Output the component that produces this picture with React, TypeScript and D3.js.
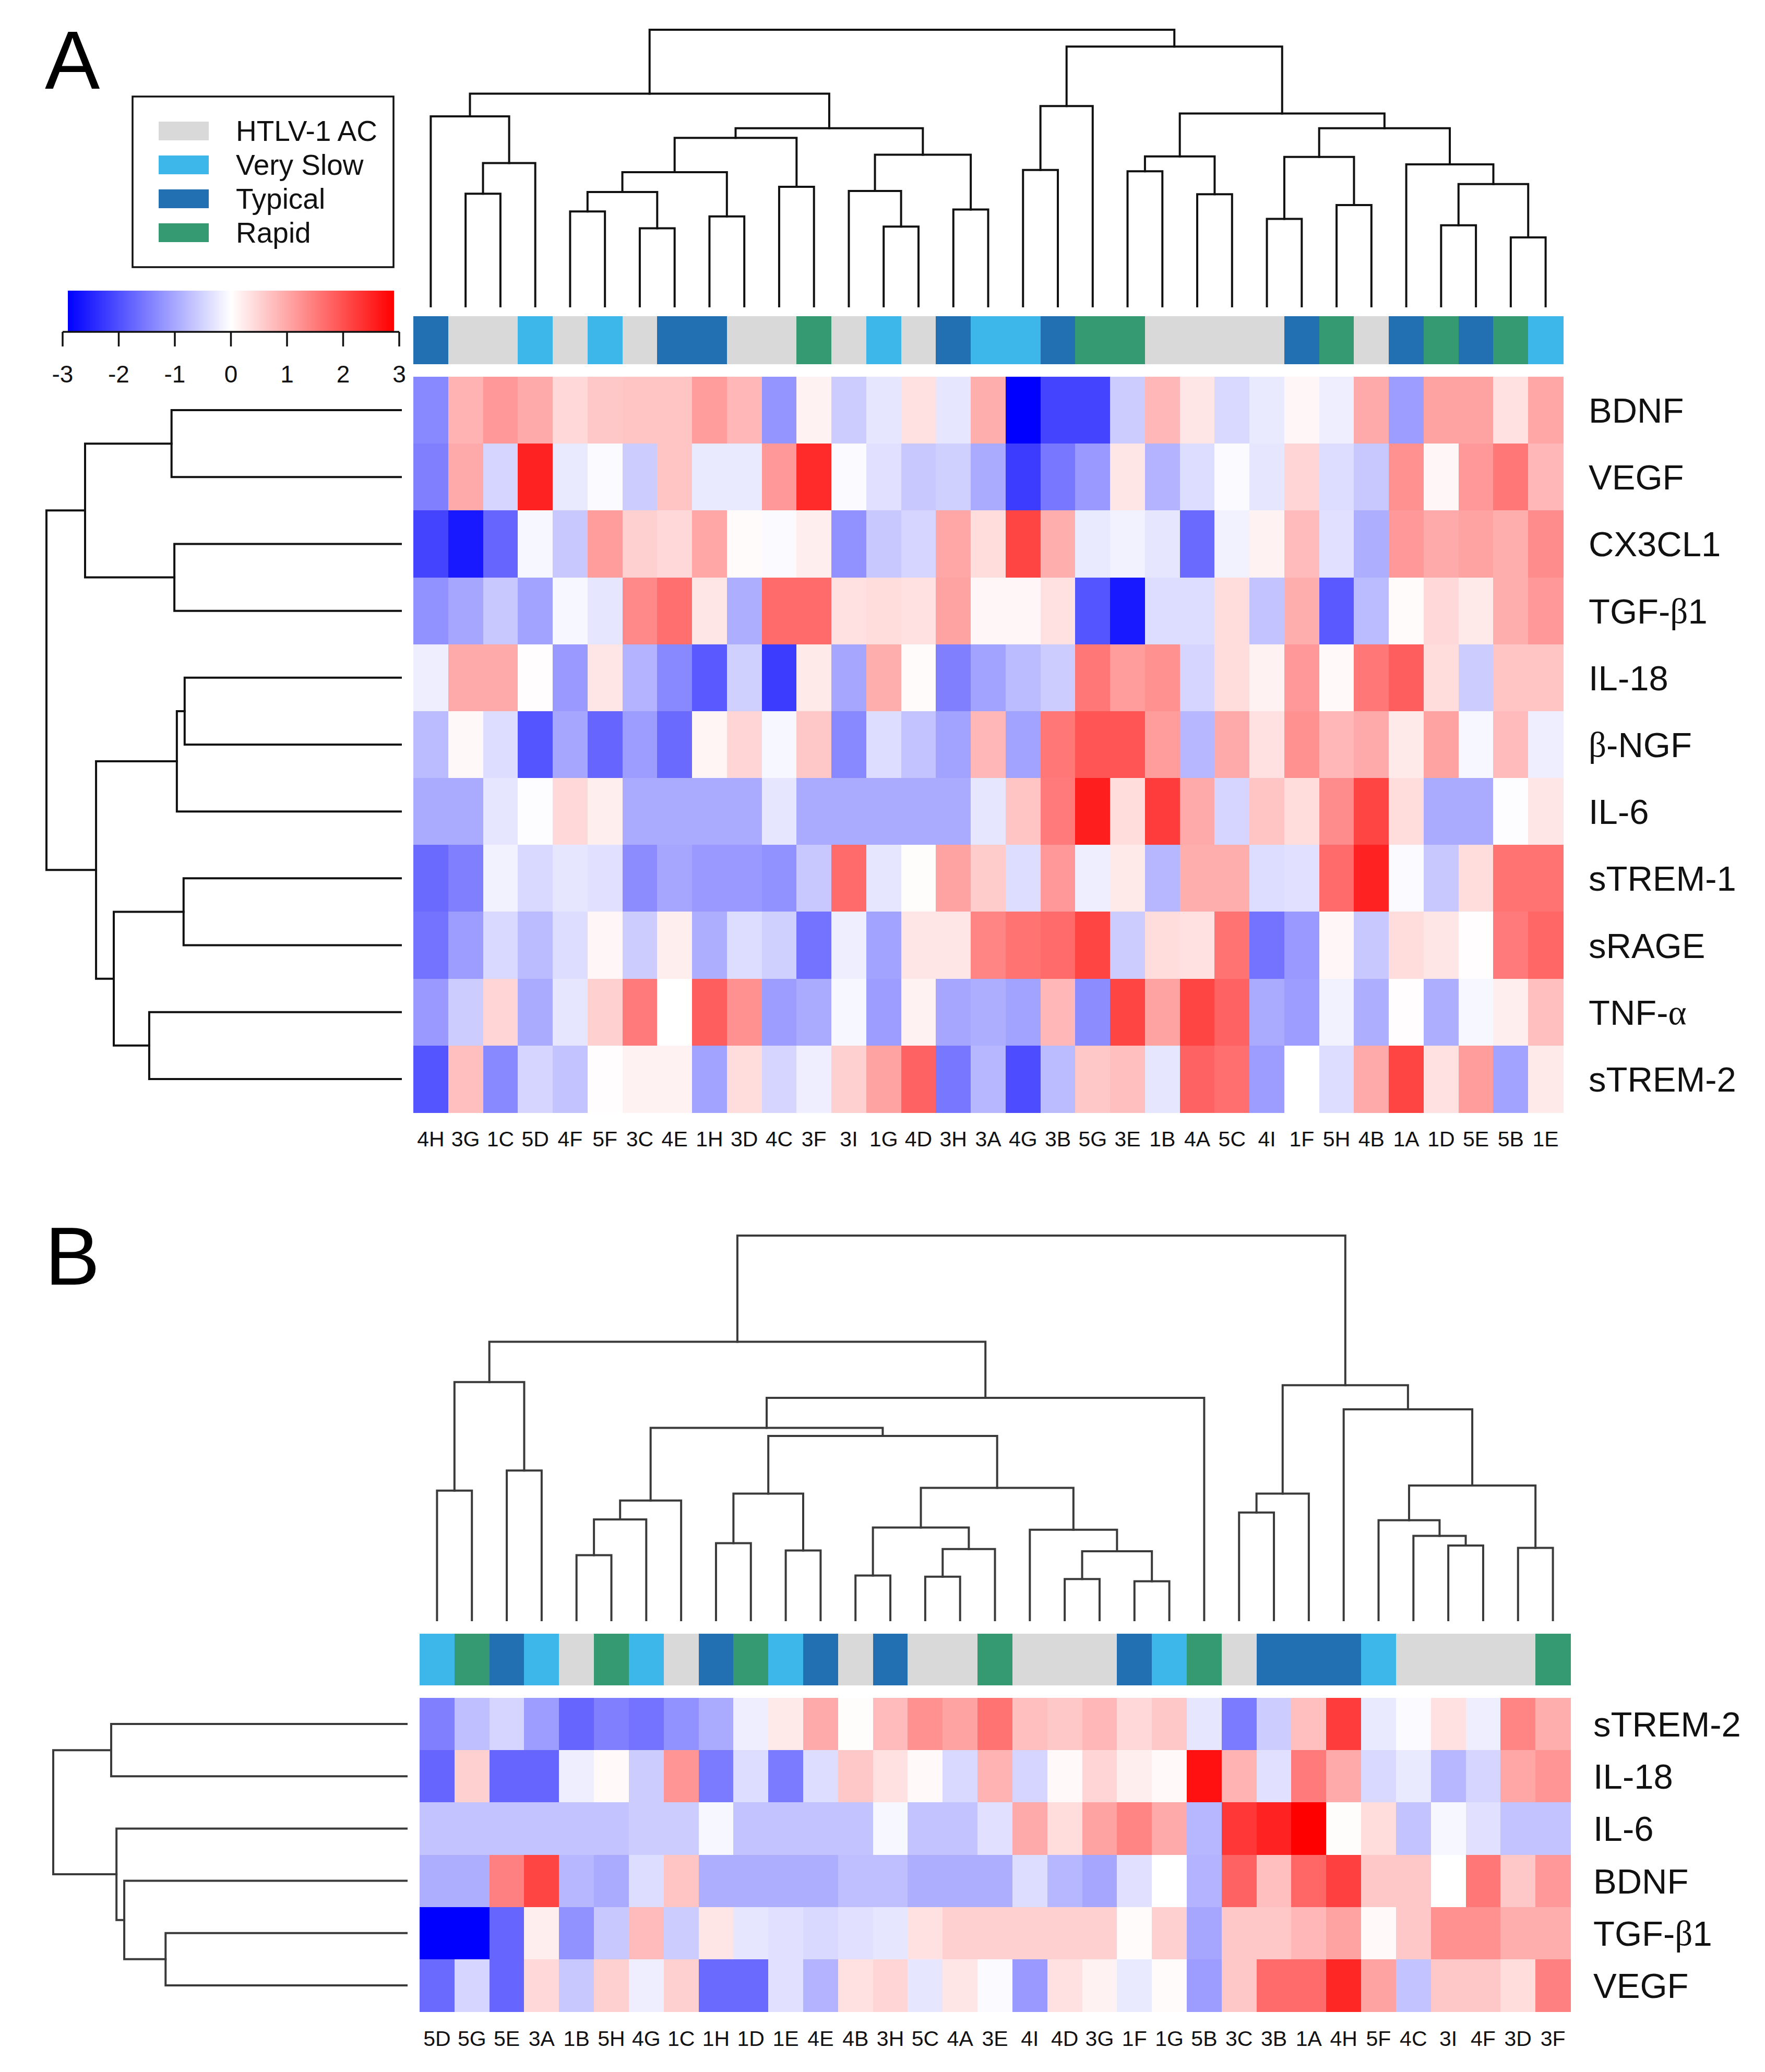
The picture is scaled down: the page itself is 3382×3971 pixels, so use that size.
import React from 'react';
import * as d3 from 'd3';

// sample -> clinical group (same in both panels)
const groupOf: Record<string, string> = {
  '4H': 'Typical', '3G': 'HTLV-1 AC', '1C': 'HTLV-1 AC', '5D': 'Very Slow', '4F': 'HTLV-1 AC',
  '5F': 'Very Slow', '3C': 'HTLV-1 AC', '4E': 'Typical', '1H': 'Typical', '3D': 'HTLV-1 AC',
  '4C': 'HTLV-1 AC', '3F': 'Rapid', '3I': 'HTLV-1 AC', '1G': 'Very Slow', '4D': 'HTLV-1 AC',
  '3H': 'Typical', '3A': 'Very Slow', '4G': 'Very Slow', '3B': 'Typical', '5G': 'Rapid',
  '3E': 'Rapid', '1B': 'HTLV-1 AC', '4A': 'HTLV-1 AC', '5C': 'HTLV-1 AC', '4I': 'HTLV-1 AC',
  '1F': 'Typical', '5H': 'Rapid', '4B': 'HTLV-1 AC', '1A': 'Typical', '1D': 'Rapid',
  '5E': 'Typical', '5B': 'Rapid', '1E': 'Very Slow',
};
const groups = ['HTLV-1 AC', 'Very Slow', 'Typical', 'Rapid'];
const groupColors = ['#d9d9d9', '#3db7e9', '#2270b1', '#359a72'];
const keyTicks = [-3, -2, -1, 0, 1, 2, 3];

// ---- panel A ----
const samplesA = ['4H', '3G', '1C', '5D', '4F', '5F', '3C', '4E', '1H', '3D', '4C', '3F', '3I', '1G', '4D', '3H', '3A',
  '4G', '3B', '5G', '3E', '1B', '4A', '5C', '4I', '1F', '5H', '4B', '1A', '1D', '5E', '5B', '1E'];
const markersA = ['BDNF', 'VEGF', 'CX3CL1', 'TGF-β1', 'IL-18', 'β-NGF', 'IL-6', 'sTREM-1', 'sRAGE', 'TNF-α', 'sTREM-2'];
const valuesA = [
  [-1.4, 0.9, 1.2, 1.0, 0.45, 0.65, 0.7, 0.7, 1.15, 0.85, -1.25, 0.15, -0.6, -0.3, 0.35, -0.3, 0.95, -3, -2.2, -2.2, -0.6, 0.85, 0.3, -0.45, -0.25, 0.1, -0.2, 1.0, -1.15, 1.1, 1.1, 0.35, 1.05],
  [-1.5, 1.0, -0.5, 2.6, -0.25, -0.05, -0.6, 0.7, -0.25, -0.25, 1.2, 2.5, -0.05, -0.35, -0.65, -0.55, -1.0, -2.3, -1.6, -1.2, 0.3, -0.9, -0.4, -0.05, -0.3, 0.5, -0.4, -0.65, 1.3, 0.1, 1.2, 1.6, 0.85],
  [-2.2, -2.7, -1.8, -0.1, -0.65, 1.15, 0.55, 0.45, 1.05, 0.05, -0.05, 0.2, -1.3, -0.65, -0.5, 1.05, 0.4, 2.2, 0.95, -0.25, -0.15, -0.3, -1.75, -0.15, 0.15, 0.8, -0.35, -0.95, 1.2, 1.0, 1.1, 0.95, 1.35],
  [-1.3, -1.05, -0.65, -1.1, -0.1, -0.3, 1.4, 1.7, 0.3, -0.95, 1.75, 1.75, 0.35, 0.4, 0.35, 1.1, 0.1, 0.1, 0.35, -2.0, -2.7, -0.4, -0.4, 0.4, -0.7, 0.95, -1.95, -0.8, 0.05, 0.45, 0.25, 0.95, 1.2],
  [-0.2, 1.0, 1.0, 0.02, -1.2, 0.3, -0.9, -1.4, -1.95, -0.55, -2.3, 0.25, -1.05, 0.95, 0.05, -1.5, -1.1, -0.8, -0.6, 1.6, 1.15, 1.3, -0.5, 0.4, 0.15, 1.2, 0.07, 1.6, 1.9, 0.4, -0.6, 0.7, 0.7],
  [-0.8, 0.08, -0.4, -2.0, -1.05, -1.8, -1.15, -1.75, 0.12, 0.5, -0.1, 0.65, -1.4, -0.4, -0.7, -1.1, 0.85, -1.1, 1.6, 2.0, 2.0, 1.15, -0.85, 1.0, 0.35, 1.3, 0.85, 1.0, 0.25, 1.1, -0.1, 0.8, -0.2],
  [-1.0, -1.0, -0.3, -0.02, 0.45, 0.2, -1.0, -1.0, -1.0, -1.0, -0.3, -1.0, -1.0, -1.0, -1.0, -1.0, -0.3, 0.7, 1.55, 2.65, 0.4, 2.3, 1.0, -0.5, 0.7, 0.4, 1.35, 2.2, 0.4, -1.0, -1.0, -0.02, 0.3],
  [-1.75, -1.5, -0.15, -0.45, -0.3, -0.35, -1.35, -1.05, -1.2, -1.2, -1.3, -0.65, 1.75, -0.3, 0.03, 1.1, 0.6, -0.4, 1.2, -0.2, 0.25, -0.85, 0.95, 0.95, -0.4, -0.35, 1.75, 2.6, -0.05, -0.65, 0.4, 1.65, 1.65],
  [-1.65, -1.15, -0.45, -0.8, -0.4, 0.1, -0.6, 0.2, -0.95, -0.4, -0.55, -1.65, -0.2, -1.1, 0.3, 0.3, 1.45, 1.65, 1.75, 2.2, -0.6, 0.4, 0.35, 1.65, -1.65, -1.2, 0.1, -0.65, 0.4, 0.3, 0.02, 1.55, 1.8],
  [-1.2, -0.6, 0.5, -1.0, -0.3, 0.55, 1.55, 0.0, 1.9, 1.3, -1.15, -1.0, -0.1, -1.15, 0.15, -1.05, -0.95, -1.1, 0.85, -1.35, 2.2, 1.1, 2.2, 1.85, -1.0, -1.15, -0.15, -0.95, 0.02, -0.95, -0.1, 0.2, 0.75],
  [-2.0, 0.75, -1.4, -0.5, -0.7, 0.02, 0.15, 0.15, -1.1, 0.4, -0.5, -0.2, 0.55, 1.1, 1.85, -1.6, -0.85, -2.1, -0.8, 0.65, 0.75, -0.3, 1.85, 1.7, -1.15, 0, -0.4, 1.0, 2.2, 0.35, 1.15, -1.1, 0.25],
];
// hclust style merges: negative = leaf (1-based position), positive = earlier merge; last = height
type Merge = [number, number, number];
const colMergesA: Merge[] = [
  [-2, -3, 4.07], [1, -4, 5.18], [-1, 2, 6.87], [-5, -6, 3.43], [-7, -8, 2.82], [4, 5, 4.13],
  [-9, -10, 3.25], [6, 7, 4.85], [-11, -12, 4.32], [8, 9, 6.09], [-14, -15, 2.88], [-13, 11, 4.17],
  [-16, -17, 3.5], [12, 13, 5.48], [10, 14, 6.44], [3, 15, 7.69], [-18, -19, 4.93], [17, -20, 7.24],
  [-21, -22, 4.88], [-23, -24, 4.05], [19, 20, 5.42], [-25, -26, 3.16], [-27, -28, 3.66], [22, 23, 5.4],
  [-30, -31, 2.93], [-32, -33, 2.49], [25, 26, 4.42], [-29, 27, 5.13], [24, 28, 6.44], [21, 29, 6.97],
  [18, 30, 9.39], [16, 31, 10],
];
const rowMergesA: Merge[] = [
  [-1, -2, 6.47], [-3, -4, 6.39], [1, 2, 8.91], [-5, -6, 6.1], [4, -7, 6.32],
  [-8, -9, 6.13], [-10, -11, 7.1], [6, 7, 8.1], [5, 8, 8.6], [3, 9, 10],
];

// ---- panel B ----
const samplesB = ['5D', '5G', '5E', '3A', '1B', '5H', '4G', '1C', '1H', '1D', '1E', '4E', '4B', '3H', '5C', '4A', '3E',
  '4I', '4D', '3G', '1F', '1G', '5B', '3C', '3B', '1A', '4H', '5F', '4C', '3I', '4F', '3D', '3F'];
const markersB = ['sTREM-2', 'IL-18', 'IL-6', 'BDNF', 'TGF-β1', 'VEGF'];
const valuesB = [
  [-1.5, -0.75, -0.5, -1.15, -1.8, -1.5, -1.65, -1.3, -1.0, -0.2, 0.25, 1.0, 0.03, 0.8, 1.3, 1.1, 1.65, 0.75, 0.65, 0.85, 0.45, 0.65, -0.3, -1.55, -0.6, 0.75, 2.3, -0.25, -0.05, 0.35, -0.2, 1.45, 0.95],
  [-1.8, 0.55, -1.8, -1.8, -0.2, 0.07, -0.6, 1.25, -1.55, -0.4, -1.55, -0.4, 0.65, 0.35, 0.07, -0.45, 0.9, -0.5, 0.07, 0.5, 0.2, 0.07, 2.8, 0.9, -0.35, 1.55, 1.0, -0.45, -0.25, -0.85, -0.5, 1.05, 1.25],
  [-0.7, -0.7, -0.7, -0.7, -0.7, -0.7, -0.6, -0.6, -0.1, -0.7, -0.7, -0.7, -0.7, -0.1, -0.7, -0.7, -0.35, 1.0, 0.4, 1.1, 1.45, 1.0, -0.85, 2.35, 2.6, 3.0, 0.03, 0.4, -0.7, -0.1, -0.35, -0.7, -0.7],
  [-0.95, -0.95, 1.5, 2.2, -0.85, -1.0, -0.4, 0.7, -0.95, -0.95, -0.95, -0.95, -0.75, -0.75, -0.95, -0.95, -0.95, -0.4, -0.85, -1.05, -0.35, 0, -0.9, 1.85, 0.75, 1.8, 2.25, 0.65, 0.65, 0, 1.6, 0.65, 1.2],
  [-3, -3, -1.8, 0.2, -1.3, -0.65, 0.8, -0.6, 0.3, -0.3, -0.35, -0.45, -0.35, -0.3, 0.35, 0.55, 0.55, 0.55, 0.55, 0.55, 0.05, 0.55, -1.05, 0.65, 0.65, 0.85, 1.1, 0.07, 0.65, 1.3, 1.3, 0.95, 0.95],
  [-1.75, -0.5, -1.8, 0.45, -0.65, 0.55, -0.2, 0.55, -1.75, -1.75, -0.35, -0.9, 0.35, 0.5, -0.3, 0.3, -0.05, -1.2, 0.35, 0.15, -0.25, 0.05, -1.15, 0.65, 1.75, 1.75, 2.55, 1.1, -0.7, 0.65, 0.65, 0.4, 1.5],
];
const colMergesB: Merge[] = [
  [-1, -2, 3.37], [-3, -4, 3.89], [1, 2, 6.19], [-5, -6, 1.69], [4, -7, 2.62], [5, -8, 3.11],
  [-9, -10, 2.0], [-11, -12, 1.81], [7, 8, 3.29], [-13, -14, 1.16], [-15, -16, 1.13], [11, -17, 1.85],
  [10, 12, 2.41], [-19, -20, 1.07], [-21, -22, 1.01], [14, 15, 1.79], [-18, 16, 2.35], [13, 17, 3.44],
  [9, 18, 4.79], [6, 19, 5.0], [20, -23, 5.78], [3, 21, 7.24], [-24, -25, 2.8], [23, -26, 3.29],
  [-30, -31, 1.94], [-29, 25, 2.19], [-28, 26, 2.6], [-32, -33, 1.88], [27, 28, 3.5], [-27, 29, 5.48],
  [24, 30, 6.11], [22, 31, 10],
];
const rowMergesB: Merge[] = [
  [-1, -2, 8.36], [-5, -6, 6.82], [-4, 2, 7.99], [-3, 3, 8.21], [1, 4, 10],
];

const color = d3.scaleLinear<string>().domain([-3, 0, 3]).range(['#0000ff', '#ffffff', '#ff0000']).clamp(true);
const groupColor = d3.scaleOrdinal<string, string>().domain(groups).range(groupColors);
const font = "'Liberation Sans', Arial, sans-serif";

function dendro(merges: Merge[], leaf: (i: number) => number, hp: (h: number) => number, vertical: boolean) {
  const pos: number[] = [];
  const hts: number[] = [];
  const get = (k: number) => (k < 0 ? [leaf(-k - 1), 0] : [pos[k - 1], hts[k - 1]]);
  return merges.map(([a, b, h]) => {
    const [pa, ha] = get(a);
    const [pb, hb] = get(b);
    pos.push((pa + pb) / 2);
    hts.push(h);
    return vertical
      ? `M${pa},${hp(ha)}V${hp(h)}H${pb}V${hp(hb)}`
      : `M${hp(ha)},${pa}H${hp(h)}V${pb}H${hp(hb)}`;
  });
}

// label with greek letters in a serif face, like the original
const Label = ({ s }: { s: string }) => {
  const parts = s.split(/([βα])/).filter(p => p !== '');
  return <>{parts.map((p, i) => (p === 'β' || p === 'α'
    ? <tspan key={i} fontFamily="'Liberation Serif', serif">{p}</tspan>
    : <tspan key={i}>{p}</tspan>))}</>;
};

type PanelProps = {
  samples: string[]; markers: string[]; values: number[][];
  colMerges: Merge[]; rowMerges: Merge[];
  x0: number; x1: number; y0: number; y1: number;
  barY0: number; barY1: number; dTop: number; dBottom: number;
  dLeft: number; dRight: number; colLabelY: number; rowLabelX: number;
  stroke: string;
};

const Panel = (p: PanelProps) => {
  const x = d3.scaleBand().domain(p.samples).range([p.x0, p.x1]);
  const y = d3.scaleBand().domain(p.markers).range([p.y0, p.y1]);
  const hTop = d3.scaleLinear().domain([0, 10]).range([p.dBottom, p.dTop]);
  const hLeft = d3.scaleLinear().domain([0, 10]).range([p.dRight, p.dLeft]);
  const colPaths = dendro(p.colMerges, i => x(p.samples[i])! + x.bandwidth() / 2, hTop, true);
  const rowPaths = dendro(p.rowMerges, i => y(p.markers[i])! + y.bandwidth() / 2, hLeft, false);
  return (
    <g>
      <g fill="none" stroke={p.stroke} strokeWidth={4} strokeLinecap="square">
        {colPaths.map((d, i) => <path key={'c' + i} d={d} />)}
        {rowPaths.map((d, i) => <path key={'r' + i} d={d} />)}
      </g>
      <g shapeRendering="crispEdges">
        {p.samples.map(s => (
          <rect key={s} x={x(s)} y={p.barY0} width={x.bandwidth() + 0.5} height={p.barY1 - p.barY0}
            fill={groupColor(groupOf[s])} />
        ))}
        {p.markers.map((m, r) => p.samples.map((s, c) => (
          <rect key={m + s} x={x(s)} y={y(m)} width={x.bandwidth() + 0.5} height={y.bandwidth() + 0.5}
            fill={color(p.values[r][c])} />
        )))}
      </g>
      <g fontFamily={font} fill="#111">
        {p.samples.map(s => (
          <text key={s} x={x(s)! + x.bandwidth() / 2} y={p.colLabelY} fontSize={41}
            textAnchor="middle" dominantBaseline="central">{s}</text>
        ))}
        {p.markers.map(m => (
          <text key={m} x={p.rowLabelX} y={y(m)! + y.bandwidth() / 2} fontSize={67}
            dominantBaseline="central"><Label s={m} /></text>
        ))}
      </g>
    </g>
  );
};

const App = () => {
  const keyX = d3.scaleLinear().domain([-3, 3]).range([120, 765]);
  return (
    <svg width={3382} height={3971} style={{ position: 'absolute', left: 0, top: 0, background: '#fff' }}>
      <defs>
        <linearGradient id="key" x1="0" x2="1" y1="0" y2="0">
          <stop offset="0" stopColor={color(-3)} />
          <stop offset="0.5" stopColor={color(0)} />
          <stop offset="1" stopColor={color(3)} />
        </linearGradient>
      </defs>
      <rect width={3382} height={3971} fill="#fff" />
      <text x={86} y={170} fontFamily={font} fontSize={158} fill="#000">A</text>
      <text x={86} y={2462} fontFamily={font} fontSize={158} fill="#000">B</text>

      {/* legend */}
      <rect x={254} y={185} width={500} height={327} fill="none" stroke="#111" strokeWidth={3.5} />
      {groups.map((g, i) => (
        <g key={g}>
          <rect x={304} y={233 + i * 65} width={96} height={36} fill={groupColor(g)} />
          <text x={452} y={251 + i * 65} fontFamily={font} fontSize={55} dominantBaseline="central" fill="#111">{g}</text>
        </g>
      ))}

      {/* colour key */}
      <rect x={130} y={557} width={625} height={79} fill="url(#key)" />
      <g stroke="#111" strokeWidth={3.5}>
        <line x1={keyX(-3)} x2={keyX(3)} y1={636} y2={636} />
        {keyTicks.map(t => <line key={t} x1={keyX(t)} x2={keyX(t)} y1={636} y2={664} />)}
      </g>
      {keyTicks.map(t => (
        <text key={t} x={keyX(t)} y={717} fontFamily={font} fontSize={46} textAnchor="middle"
          dominantBaseline="central" fill="#111">{t}</text>
      ))}

      <Panel samples={samplesA} markers={markersA} values={valuesA} colMerges={colMergesA} rowMerges={rowMergesA}
        x0={792} x1={2995} y0={722} y1={2132} barY0={606} barY1={698}
        dTop={57} dBottom={587} dLeft={89} dRight={768} colLabelY={2183} rowLabelX={3044} stroke="#111" />
      <Panel samples={samplesB} markers={markersB} values={valuesB} colMerges={colMergesB} rowMerges={rowMergesB}
        x0={804} x1={3009} y0={3254} y1={3855} barY0={3131} barY1={3230}
        dTop={2368} dBottom={3105} dLeft={102} dRight={779} colLabelY={3907} rowLabelX={3053} stroke="#3a3a3a" />
    </svg>
  );
};

export default App;
